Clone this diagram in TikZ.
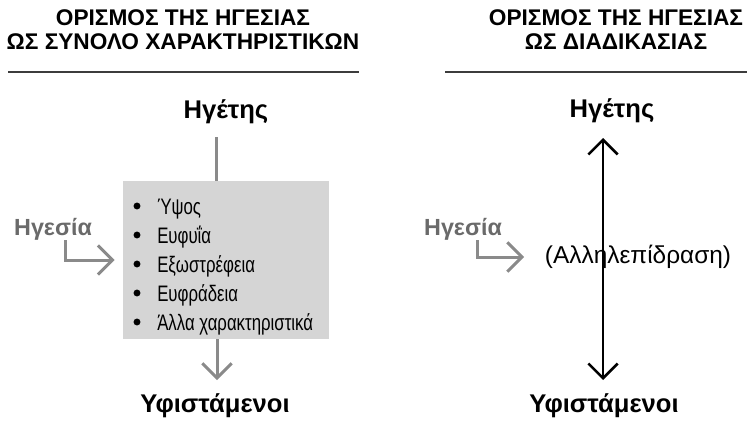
\documentclass[tikz,border=0pt]{standalone}
\usepackage{fontspec}
\setmainfont{Liberation Sans}
\newfontfamily\narrowfont{Liberation Sans}[FakeStretch=0.75]
\usetikzlibrary{arrows.meta,positioning}

\definecolor{boxgray}{HTML}{D5D5D5}
\definecolor{linegray}{HTML}{8A8A8A}
\definecolor{textgray}{HTML}{6A6A6A}
\definecolor{rulegray}{HTML}{3C3C3C}

\tikzset{
  title/.style={font=\bfseries\fontsize{17}{18}\selectfont, align=center, anchor=base, inner sep=0pt},
  role/.style={font=\bfseries\fontsize{19.2}{20}\selectfont, anchor=base, inner sep=0pt},
  lead/.style={font=\bfseries\fontsize{17.5}{18}\selectfont, anchor=base, inner sep=0pt, textgray},
  item/.style={font=\narrowfont\fontsize{16.8}{19}\selectfont, anchor=base west, inner sep=0pt},
  grayline/.style={linegray, line width=2.25pt},
  grayarrow/.style={grayline, -{Straight Barb[length=11pt, width=22pt]}},
  blackarrow/.style={black, line width=1.9pt, {Straight Barb[length=11pt, width=22pt]}-{Straight Barb[length=11pt, width=22pt]}}
}

\begin{document}
\begin{tikzpicture}[x=0.75pt, y=-0.75pt]
        \useasboundingbox (0,0) rectangle (747,421);

        % 1. Titles and rules
        \node[title] (title1) at (183, 50) {ΟΡΙΣΜΟΣ ΤΗΣ ΗΓΕΣΙΑΣ\\ΩΣ ΣΥΝΟΛΟ ΧΑΡΑΚΤΗΡΙΣΤΙΚΩΝ};
        \node[title] (title2) at (616, 50) {ΟΡΙΣΜΟΣ ΤΗΣ ΗΓΕΣΙΑΣ\\ΩΣ ΔΙΑΔΙΚΑΣΙΑΣ};
        \draw[rulegray, line width=1pt] (8, 72) -- (359, 72);
        \draw[rulegray, line width=1pt] (445, 72) -- (747, 72);

        % 2. Left: leadership as a set of traits
        \node[role] (leader1) at (226, 118) {Ηγέτης};
        \node[role] (sub1) at (215, 412) {Υφιστάμενοι};
        \node[lead] (lead1) at (53, 235) {Ηγεσία};

        \node[fill=boxgray, minimum width=154.5pt, minimum height=118.5pt, inner sep=0pt] (traits) at (226, 260) {};

        % The traits (bullet + text)
        \foreach \t [count=\i] in {Ύψος, Ευφυΐα, Εξωστρέφεια, Ευφράδεια, Άλλα χαρακτηριστικά} {
            \fill (137, 206 + 29*\i - 29) circle (2.6pt);
            \node[item] (trait\i) at (157, 214 + 29*\i - 29) {\t};
        }

        % Free ends of the connectors
        \coordinate (top1) at (216, 137);
        \coordinate (bot1) at (217, 380);
        \coordinate (bend1) at (65, 240);

        \draw[grayline] (top1) -- (traits.north -| top1);
        \draw[grayarrow] (traits.south -| bot1) -- (bot1);
        \draw[grayarrow, shorten >=6pt] (bend1) |- (traits.west);

        % 3. Right: leadership as a process
        \node[role] (leader2) at (612, 117) {Ηγέτης};
        \node[role] (sub2) at (604, 412) {Υφιστάμενοι};
        \node[lead] (lead2) at (463, 235) {Ηγεσία};
        \node[font=\fontsize{18.3}{20}\selectfont, inner sep=0pt] (inter) at (638, 257) {(Αλληλεπίδραση)};

        \coordinate (top2) at (603, 138);
        \coordinate (bot2) at (603, 380);
        \coordinate (bend2) at (477, 240);
        \coordinate (tip2) at (524, 257);

        \draw[blackarrow] (top2) -- (bot2);
        \draw[grayarrow] (bend2) |- (tip2);

    \end{tikzpicture}
\end{document}
